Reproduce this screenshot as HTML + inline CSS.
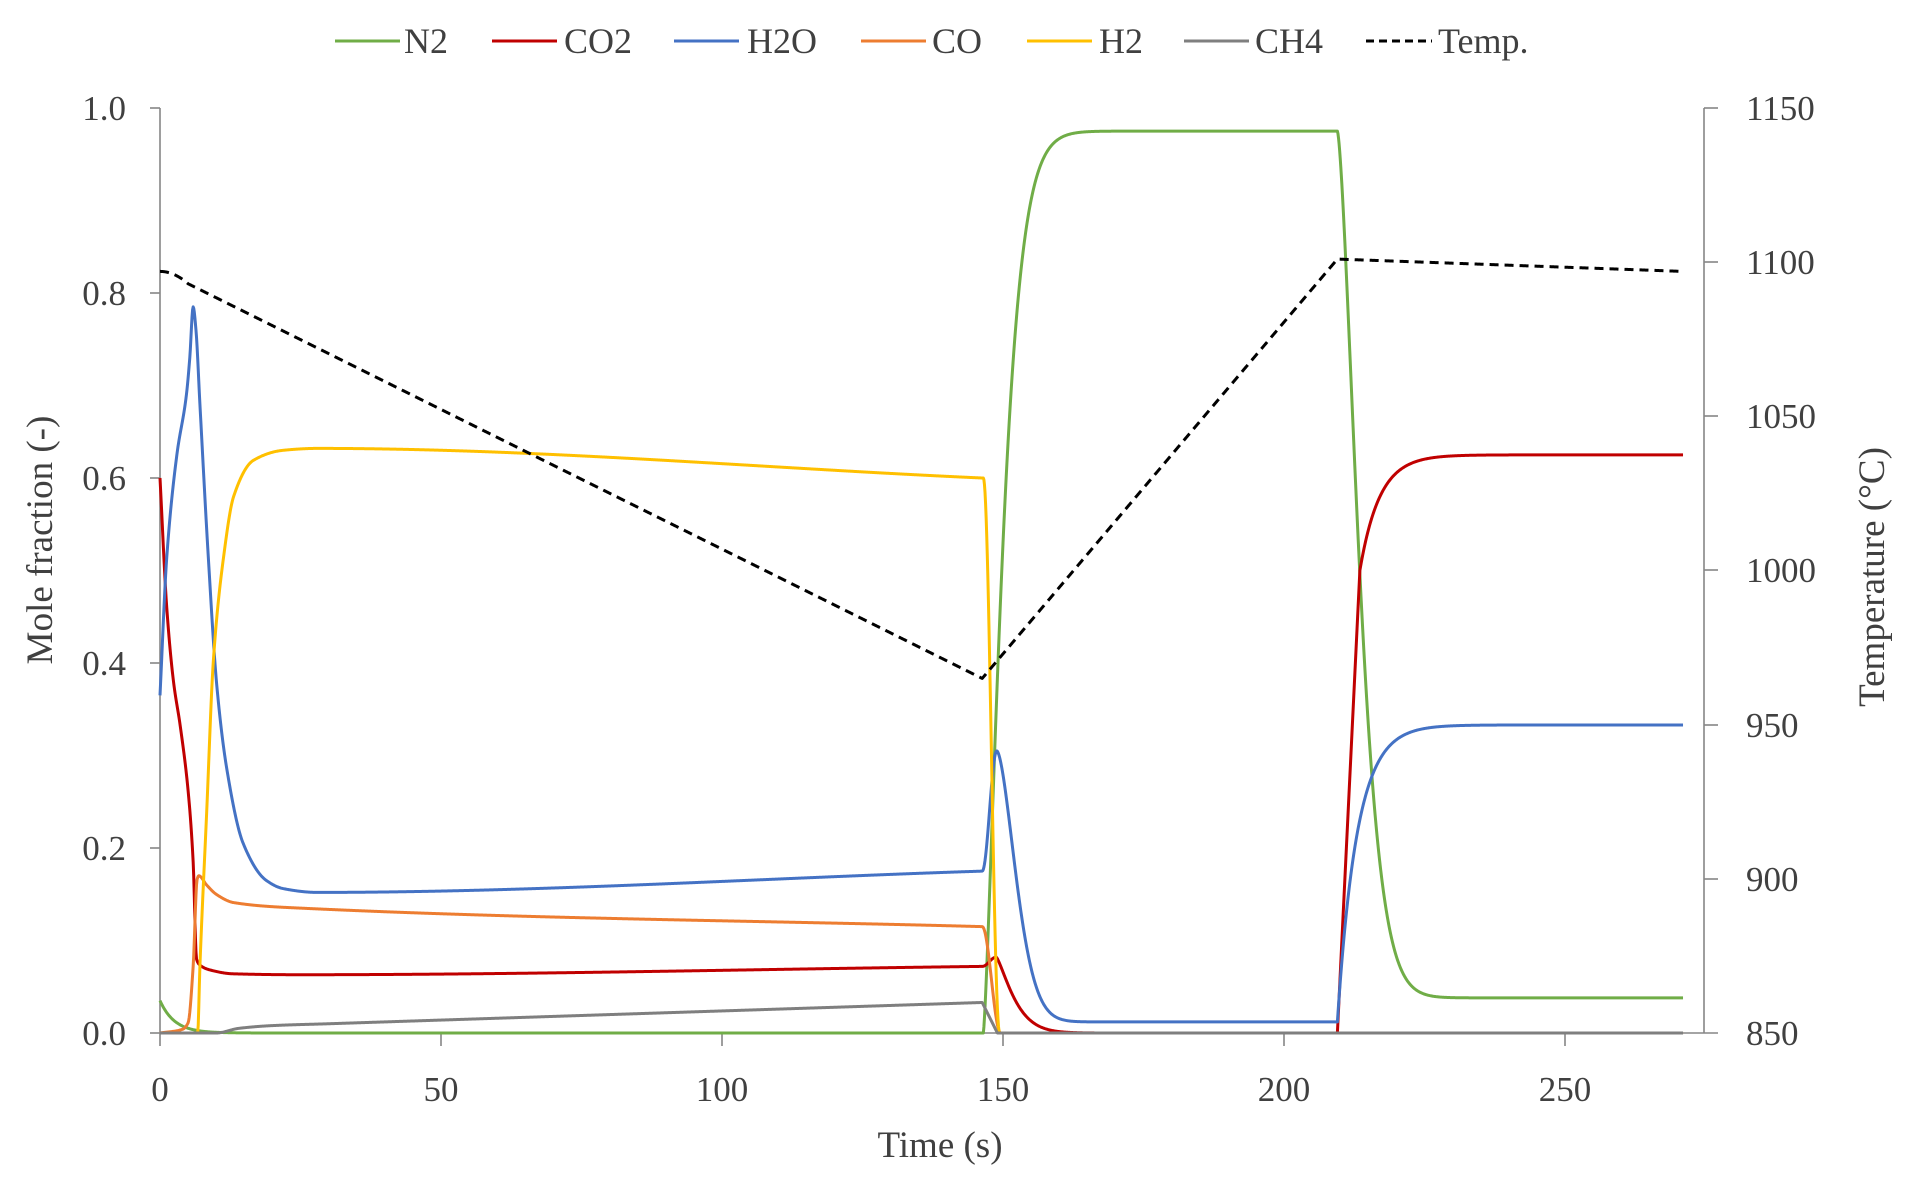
<!DOCTYPE html>
<html><head><meta charset="utf-8">
<style>
html,body{margin:0;padding:0;background:#fff;}
svg{display:block;}
text{font-family:"Liberation Serif",serif;fill:#404040;}
</style></head>
<body>
<svg id="s" width="1926" height="1187" viewBox="0 0 1926 1187" xmlns="http://www.w3.org/2000/svg">
<rect width="1926" height="1187" fill="#fff"/>
<g stroke="#868686" stroke-width="1.6" fill="none">
<line x1="160" y1="108" x2="160" y2="1033"/>
<line x1="160" y1="1033" x2="1718" y2="1033"/>
<line x1="1704" y1="108" x2="1704" y2="1033"/>
<line x1="150" y1="108" x2="160" y2="108"/>
<line x1="150" y1="293" x2="160" y2="293"/>
<line x1="150" y1="478" x2="160" y2="478"/>
<line x1="150" y1="663" x2="160" y2="663"/>
<line x1="150" y1="848" x2="160" y2="848"/>
<line x1="150" y1="1033" x2="160" y2="1033"/>
<line x1="1704" y1="108" x2="1718" y2="108"/>
<line x1="1704" y1="262" x2="1718" y2="262"/>
<line x1="1704" y1="416" x2="1718" y2="416"/>
<line x1="1704" y1="570" x2="1718" y2="570"/>
<line x1="1704" y1="725" x2="1718" y2="725"/>
<line x1="1704" y1="879" x2="1718" y2="879"/>
<line x1="160" y1="1033" x2="160" y2="1046"/>
<line x1="441" y1="1033" x2="441" y2="1046"/>
<line x1="722" y1="1033" x2="722" y2="1046"/>
<line x1="1003" y1="1033" x2="1003" y2="1046"/>
<line x1="1284" y1="1033" x2="1284" y2="1046"/>
<line x1="1565" y1="1033" x2="1565" y2="1046"/>
</g>
<g font-size="35" text-anchor="end">
<text x="126" y="120">1.0</text>
<text x="126" y="305">0.8</text>
<text x="126" y="490">0.6</text>
<text x="126" y="675">0.4</text>
<text x="126" y="860">0.2</text>
<text x="126" y="1045">0.0</text>
</g>
<g font-size="35" text-anchor="start">
<text x="1746" y="120">1150</text>
<text x="1746" y="274">1100</text>
<text x="1746" y="428">1050</text>
<text x="1746" y="582">1000</text>
<text x="1746" y="737">950</text>
<text x="1746" y="891">900</text>
<text x="1746" y="1045">850</text>
</g>
<g font-size="35" text-anchor="middle">
<text x="160" y="1101">0</text>
<text x="441" y="1101">50</text>
<text x="722" y="1101">100</text>
<text x="1003" y="1101">150</text>
<text x="1284" y="1101">200</text>
<text x="1565" y="1101">250</text>
</g>
<g font-size="37" text-anchor="middle">
<text x="940" y="1157">Time (s)</text>
<text transform="translate(52,540) rotate(-90)">Mole fraction (-)</text>
<text transform="translate(1884,577) rotate(-90)">Temperature (°C)</text>
</g>
<g id="series" fill="none" stroke-width="3" stroke-linejoin="round"></g>
<g stroke-width="3">
<line x1="335" y1="41" x2="400" y2="41" stroke="#70ad47"/>
<line x1="492" y1="41" x2="557" y2="41" stroke="#c00000"/>
<line x1="674" y1="41" x2="739" y2="41" stroke="#4472c4"/>
<line x1="861" y1="41" x2="926" y2="41" stroke="#ed7d31"/>
<line x1="1027" y1="41" x2="1092" y2="41" stroke="#ffc000"/>
<line x1="1184" y1="41" x2="1249" y2="41" stroke="#7f7f7f"/>
<line x1="1366" y1="41" x2="1432" y2="41" stroke="#000" stroke-dasharray="8 5"/>
</g>
<g font-size="36">
<text x="404" y="53">N2</text>
<text x="564" y="53">CO2</text>
<text x="747" y="53">H2O</text>
<text x="932" y="53">CO</text>
<text x="1099" y="53">H2</text>
<text x="1255" y="53">CH4</text>
<text x="1438" y="53">Temp.</text>
</g>
</svg>
<script>
(function(){
function X(t){return 160+5.62*t;}
function Y(v){return 1033-925*v;}
function lin(p,t){
 var n=p.length;
 if(t<=p[0][0])return p[0][1];
 if(t>=p[n-1][0])return p[n-1][1];
 var d=[],m=[];
 for(var i=0;i<n-1;i++)d.push((p[i+1][1]-p[i][1])/(p[i+1][0]-p[i][0]));
 m[0]=d[0];m[n-1]=d[n-2];
 for(var i=1;i<n-1;i++){if(d[i-1]*d[i]<=0)m[i]=0;else{var w1=2*(p[i+1][0]-p[i][0])+(p[i][0]-p[i-1][0]),w2=(p[i+1][0]-p[i][0])+2*(p[i][0]-p[i-1][0]);m[i]=(w1+w2)/(w1/d[i-1]+w2/d[i]);}}
 for(var i=1;i<n;i++){if(t<=p[i][0]){var h=p[i][0]-p[i-1][0],s=(t-p[i-1][0])/h;
  var h00=2*s*s*s-3*s*s+1,h10=s*s*s-2*s*s+s,h01=-2*s*s*s+3*s*s,h11=s*s*s-s*s;
  return h00*p[i-1][1]+h10*h*m[i-1]+h01*p[i][1]+h11*h*m[i];}}
 return p[n-1][1];
}
function cosr(t,t0,t1){if(t<=t0)return 0;if(t>=t1)return 1;return (1-Math.cos(Math.PI*(t-t0)/(t1-t0)))/2;}
var T1=146.3,T2=209.5;
function N2(t){
 if(t<146.5) return 0.035*Math.exp(-t/2.6);
 if(t<T2) return 0.975*(1-Math.exp(-Math.pow((t-146.5)/4.2,1.34)));
 return 0.038+0.937*Math.exp(-Math.pow((t-T2)/5.0,1.5));
}
function CO2(t){
 if(t<T1) return lin([[0,0.6],[1.2,0.46],[2.4,0.38],[3.6,0.332],[5,0.262],[5.9,0.185],[6.5,0.08],[7,0.074],[9,0.068],[13,0.064],[25,0.063],[T1,0.072]],t);
 if(t<148.8) return 0.072+0.01*cosr(t,T1,148.8);
 if(t<T2) return 0.082*Math.exp(-Math.pow((t-148.8)/3.87,1.3));
 if(t<213.5) return 0.5*(t-T2)/4;
 return 0.625-0.125*Math.exp(-(t-213.5)/3.5);
}
function H2O(t){
 if(t<T1) return lin([[0,0.365],[1.2,0.514],[3,0.625],[4.7,0.69],[5.3,0.73],[5.9,0.785],[6.4,0.76],[7.1,0.68],[8.6,0.514],[10.1,0.376],[11.9,0.285],[14.8,0.205],[18.9,0.165],[22,0.156],[28,0.152],[T1,0.175]],t);
 if(t<148.9) return 0.175+0.13*cosr(t,T1,148.9);
 if(t<T2) return 0.012+0.293*Math.exp(-Math.pow((t-148.9)/4.57,1.67));
 return 0.333-0.321*Math.exp(-(t-T2)/3.5);
}
function CO(t){
 if(t<T1) return lin([[0,0],[4,0.004],[5,0.011],[5.9,0.072],[6.6,0.166],[6.9,0.17],[8.3,0.16],[10,0.15],[13.1,0.141],[25,0.135],[T1,0.115]],t);
 if(t<149.6) return 0.115*(1-cosr(t,T1,149.6));
 return 0;
}
function H2(t){
 if(t<T1) return lin([[0,0],[6.7,0],[7.1,0.072],[8.3,0.238],[9.5,0.403],[11.3,0.514],[13.1,0.58],[16.6,0.619],[22,0.63],[28,0.632],[T1,0.6]],t);
 if(t<149.4) return 0.6*(1-cosr(t,146.5,149.4));
 return 0;
}
function CH4(t){
 if(t<T1) return lin([[0,0],[10,0],[14,0.005],[20,0.008],[30,0.01],[T1,0.033]],t);
 if(t<149) return 0.033*(1-(t-T1)/2.7);
 return 0;
}
function TMP(t){
 var T;
 if(t<=5) T=1097-0.16*t*t;
 else if(t<=T1) T=1093+(965-1093)*(t-5)/(T1-5);
 else if(t<=T2) T=965+(1101-965)*(t-T1)/(T2-T1);
 else T=1101-4*(t-T2)/(271-T2);
 return (T-850)/300;
}
var ser=[[N2,"#70ad47"],[CO2,"#c00000"],[H2O,"#4472c4"],[CO,"#ed7d31"],[H2,"#ffc000"],[CH4,"#7f7f7f"],[TMP,"#000",1]];
var g=document.getElementById("series"),ns="http://www.w3.org/2000/svg";
ser.forEach(function(s){
 var d="";
 for(var t=0;t<=271.0001;t+=0.1){var v=s[0](t);d+=(d?"L":"M")+X(t).toFixed(2)+" "+Y(v).toFixed(2);}
 var p=document.createElementNS(ns,"path");p.setAttribute("d",d);p.setAttribute("stroke",s[1]);
 if(s[2]){p.setAttribute("stroke-dasharray","9 6");}
 g.appendChild(p);
});
})();
</script>
</body></html>
